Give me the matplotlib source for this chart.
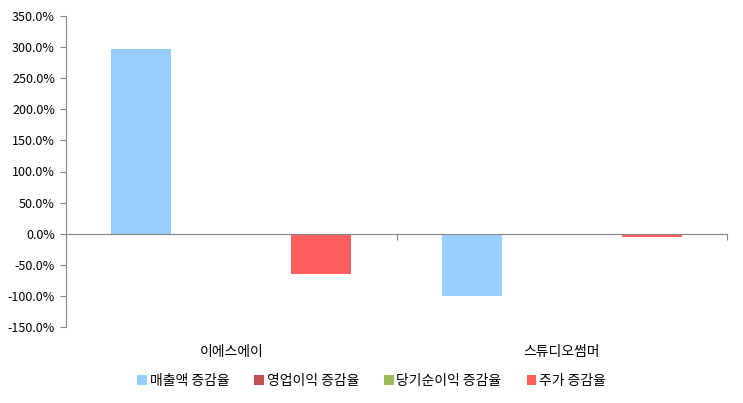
import numpy as np
import matplotlib.pyplot as plt
from matplotlib.patches import Patch

plt.rcParams['font.family'] = ['Noto Sans CJK KR', 'DejaVu Sans']

# data (percent change)
companies = ['이에스에이', '스튜디오썸머']
series_names = ['매출액 증감율', '영업이익 증감율', '당기순이익 증감율', '주가 증감율']
sales_chg = [296.5, -100.0]
op_profit_chg = [np.nan, np.nan]
net_profit_chg = [np.nan, np.nan]
price_chg = [-64.0, -5.5]
series_colors = ['#99CCFF', '#C0504D', '#9BBB59', '#FF5F5F']

all_series = [sales_chg, op_profit_chg, net_profit_chg, price_chg]

fig = plt.figure(figsize=(7.43, 4.03), dpi=100)
ax = fig.add_axes([66 / 743, 76 / 403, 661 / 743, 311 / 403])

x = np.arange(len(companies))
w = 0.1815
for i, (vals, col) in enumerate(zip(all_series, series_colors)):
    ax.bar(x + (i - 1.5) * w, vals, width=w, color=col, zorder=2)

ax.set_xlim(-0.5, 1.5)
ax.set_ylim(-150, 350)
yt = np.arange(-150, 351, 50)
ax.set_yticks(yt)
ax.set_yticklabels(['%.1f%%' % v for v in yt], fontsize=9)

grey = '#868686'
for s in ['top', 'right']:
    ax.spines[s].set_visible(False)
ax.spines['left'].set_color(grey)
ax.spines['bottom'].set_color(grey)
ax.spines['bottom'].set_position(('data', 0))
ax.spines['bottom'].set_zorder(3)

ax.set_xticks([-0.5, 0.5, 1.5])
ax.set_xticklabels([])
ax.tick_params(axis='x', direction='out', length=4, color=grey)
ax.tick_params(axis='y', direction='out', length=4, color=grey, pad=4)

for i, name in enumerate(companies):
    ax.text(i, -0.08, name, transform=ax.get_xaxis_transform(),
            ha='center', va='center', fontsize=10)

handles = [Patch(facecolor=c, edgecolor='none') for c in series_colors]
fig.legend(handles, series_names, loc='center', bbox_to_anchor=(0.50, 0.055),
           ncol=4, frameon=False, fontsize=10, handlelength=0.7, handleheight=0.7,
           handletextpad=0.2, columnspacing=1.8)

fig.savefig('out.png', dpi=100)
